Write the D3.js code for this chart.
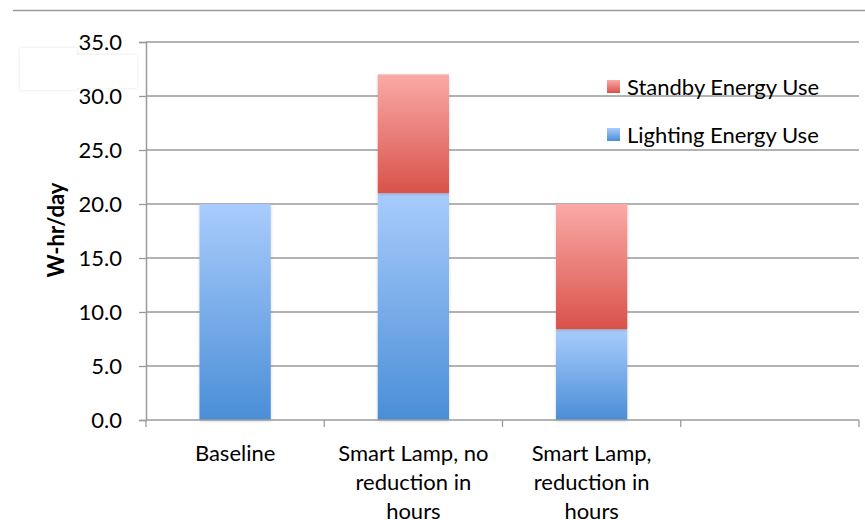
<!DOCTYPE html>
<html>
<head>
<meta charset="utf-8">
<script src="https://cdn.jsdelivr.net/npm/d3@7"></script>
<style>
  html, body { margin: 0; padding: 0; background: #fff; }
  svg { display: block; }
  text { font-family: "Lato", "Open Sans", sans-serif; fill: #000; }
</style>
</head>
<body>
<svg id="chart" width="865" height="520"></svg>
<script>
// ---- data ----
const categories = ["Baseline", "Smart Lamp, no reduction in hours", "Smart Lamp, reduction in hours", ""];
const categoryLines = [["Baseline"], ["Smart Lamp, no", "reduction in", "hours"], ["Smart Lamp,", "reduction in", "hours"], []];
const lightingEnergy = [20.0, 21.0, 8.4, null];
const standbyEnergy = [0.0, 11.0, 11.6, null];
const seriesNames = ["Standby Energy Use", "Lighting Energy Use"];
const yTicks = [0, 5, 10, 15, 20, 25, 30, 35];
const yTitle = "W-hr/day";

// ---- layout ----
const svg = d3.select("#chart");
const pLeft = 146, pRight = 859, pTop = 42, pBottom = 420;
const FS = 22;

const x = d3.scaleBand().domain(categories.map((d, i) => i)).range([pLeft, pRight]).paddingInner(0.6).paddingOuter(0.3);
const xEdges = d3.scaleLinear().domain([0, categories.length]).range([pLeft, pRight]);
const y = d3.scaleLinear().domain([0, 35]).range([pBottom, pTop]);

const defs = svg.append("defs");
const gBlue = defs.append("linearGradient").attr("id", "gBlue").attr("x1", 0).attr("y1", 0).attr("x2", 0).attr("y2", 1);
gBlue.append("stop").attr("offset", "0%").attr("stop-color", "#a9ccfc");
gBlue.append("stop").attr("offset", "100%").attr("stop-color", "#4a8ed7");
const gRed = defs.append("linearGradient").attr("id", "gRed").attr("x1", 0).attr("y1", 0).attr("x2", 0).attr("y2", 1);
gRed.append("stop").attr("offset", "0%").attr("stop-color", "#faaaa7");
gRed.append("stop").attr("offset", "100%").attr("stop-color", "#d9524a");
const shadow = defs.append("filter").attr("id", "shadow").attr("x", "-20%").attr("y", "-20%").attr("width", "140%").attr("height", "140%");
shadow.append("feDropShadow").attr("dx", 0).attr("dy", 1).attr("stdDeviation", 1.5).attr("flood-color", "#000").attr("flood-opacity", 0.18);
const boxShadow = defs.append("filter").attr("id", "boxShadow").attr("x", "-20%").attr("y", "-20%").attr("width", "140%").attr("height", "140%");
boxShadow.append("feDropShadow").attr("dx", 0).attr("dy", 0).attr("stdDeviation", 1.5).attr("flood-color", "#000").attr("flood-opacity", 0.12);

// top separator line
svg.append("line").attr("x1", 13).attr("x2", 865).attr("y1", 10.5).attr("y2", 10.5)
  .attr("stroke", "#9a9a9a").attr("stroke-width", 1.3);

// gridlines
svg.append("g").selectAll("line").data(yTicks.filter(d => d > 0)).join("line")
  .attr("x1", pLeft).attr("x2", pRight)
  .attr("y1", d => y(d)).attr("y2", d => y(d))
  .attr("stroke", "#9a9a9a").attr("stroke-width", 1.3);

// y axis
const yAxis = svg.append("g").attr("transform", `translate(${pLeft},0)`)
  .call(d3.axisLeft(y).tickValues(yTicks).tickFormat(d3.format(".1f")).tickSize(7).tickPadding(17));
yAxis.select(".domain").attr("stroke", "#9a9a9a").attr("stroke-width", 1.5);
yAxis.selectAll(".tick line").attr("stroke", "#9a9a9a").attr("stroke-width", 1.3);
yAxis.selectAll(".tick text").attr("font-size", FS).attr("font-family", "Lato, sans-serif").attr("fill", "#000").attr("dy", "0.36em");

// white box (artifact) over axis labels area
svg.append("rect").attr("x", 20).attr("y", 48).attr("width", 57).attr("height", 42).attr("fill", "#fff").attr("filter", "url(#boxShadow)");
svg.append("rect").attr("x", 77).attr("y", 55).attr("width", 60).attr("height", 33).attr("fill", "#fff").attr("filter", "url(#boxShadow)");
svg.append("rect").attr("x", 20).attr("y", 48).attr("width", 57).attr("height", 42).attr("fill", "#fff");

// y title
svg.append("text").attr("transform", `translate(64,230) rotate(-90)`)
  .attr("text-anchor", "middle").attr("font-size", FS).attr("font-weight", "bold").text(yTitle);

// bars
const barsG = svg.append("g");
categories.forEach((c, i) => {
  if (lightingEnergy[i] == null) return;
  const l = lightingEnergy[i], s = standbyEnergy[i];
  barsG.append("rect").attr("x", x(i)).attr("width", x.bandwidth())
    .attr("y", y(l)).attr("height", y(0) - y(l))
    .attr("fill", "url(#gBlue)").attr("filter", "url(#shadow)");
  if (s > 0) {
    barsG.append("rect").attr("x", x(i)).attr("width", x.bandwidth())
      .attr("y", y(l + s)).attr("height", y(l) - y(l + s))
      .attr("fill", "url(#gRed)").attr("filter", "url(#shadow)");
  }
});

// x axis
const xAxisG = svg.append("g");
xAxisG.append("line").attr("x1", pLeft).attr("x2", pRight).attr("y1", pBottom).attr("y2", pBottom)
  .attr("stroke", "#9a9a9a").attr("stroke-width", 1.5);
xAxisG.selectAll(".xt").data(d3.range(categories.length + 1)).join("line")
  .attr("x1", d => xEdges(d)).attr("x2", d => xEdges(d))
  .attr("y1", pBottom).attr("y2", pBottom + 7)
  .attr("stroke", "#9a9a9a").attr("stroke-width", 1.3);

// x labels
categories.forEach((c, i) => {
  const cx = x(i) + x.bandwidth() / 2;
  const t = svg.append("text").attr("text-anchor", "middle").attr("font-size", FS);
  categoryLines[i].forEach((ln, j) => {
    t.append("tspan").attr("x", cx).attr("y", 461 + j * 29).text(ln);
  });
});

// legend
const legendItems = [
  { name: seriesNames[0], fill: "url(#gRed)", y: 80 },
  { name: seriesNames[1], fill: "url(#gBlue)", y: 128 }
];
const lg = svg.append("g").selectAll("g").data(legendItems).join("g")
  .attr("transform", d => `translate(607,${d.y})`);
lg.append("rect").attr("width", 13).attr("height", 13).attr("fill", d => d.fill);
lg.append("text").attr("x", 20).attr("y", 15).attr("font-size", FS).text(d => d.name);
</script>
</body>
</html>
